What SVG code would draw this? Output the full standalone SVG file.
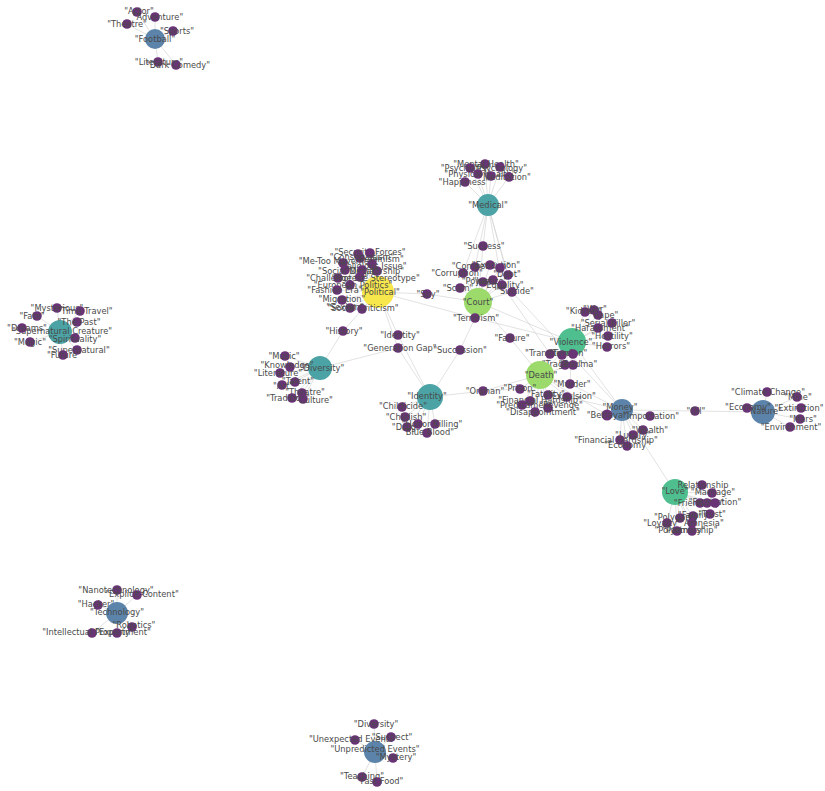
<svg xmlns="http://www.w3.org/2000/svg" width="825" height="791" viewBox="0 0 825 791">
<style>
  .e{stroke:#cfcfcf;stroke-width:0.6;fill:none}
  .leaf{fill:#693476}
  .hub-blue{fill:#5c84aa}
  .hub-teal{fill:#4ca3a5}
  .hub-mint{fill:#4fbf8f}
  .hub-lime{fill:#9bda6b}
  .hub-yellow{fill:#f7e64c}
  text{font-family:"DejaVu Sans","Liberation Sans",sans-serif;font-size:8.3px;fill:#4a4a4a;text-anchor:middle}
</style>
<rect width="825" height="791" fill="#ffffff"/>

<!-- edges -->
<g id="connectors">
  <!-- Football -->
  <path class="e" d="M155 39L137 12M155 39L155 17M155 39L127 24M155 39L173 31M155 39L158 62M155 39L176 65"/>
  <!-- Medical -->
  <path class="e" d="M488 205L485 164M488 205L500 167M488 205L470 168M488 205L478 174M488 205L491 176M488 205L509 177M488 205L465 182"/>
  <path class="e" d="M488 205L483 246M488 205L463 273M488 205L512 292M488 205L502 285M488 205L475 267M488 205L508 275"/>
  <!-- Political -->
  <path class="e" d="M378 292L358 254M378 292L370 253M378 292L360 258M378 292L343 263M378 292L372 264M378 292L345 270M378 292L362 270M378 292L377 271M378 292L338 278M378 292L360 277M378 292L350 285M378 292L337 290M378 292L342 300M378 292L350 308M378 292L362 309"/>
  <path class="e" d="M378 292L427 294L478 302M378 292L475 318M378 292L343 331L320 368M378 292L398 335L430 397M378 292L398 348M320 368L398 348L430 397"/>
  <!-- Court -->
  <path class="e" d="M478 302L483 246M478 302L463 273M478 302L475 267M478 302L490 265M478 302L500 268M478 302L508 275M478 302L483 282M478 302L493 280M478 302L460 288M478 302L502 285M478 302L512 292M478 302L475 318"/>
  <path class="e" d="M478 302L510 338L540 375M478 302L572 342M475 318L572 342M475 318L460 350L430 397M512 292L622 410M502 285L550 354"/>
  <!-- Supernatural -->
  <path class="e" d="M60 332L57 308M60 332L80 311M60 332L37 316M60 332L77 322M60 332L22 328M60 332L75 338M60 332L30 342M60 332L77 350M60 332L63 355"/>
  <!-- Diversity -->
  <path class="e" d="M320 368L285 356M320 368L290 367M320 368L280 373M320 368L295 382M320 368L282 385M320 368L302 393M320 368L292 398M320 368L303 399"/>
  <!-- Identity -->
  <path class="e" d="M430 397L483 391L540 375M430 397L402 407M430 397L405 417M430 397L407 427M430 397L418 424M430 397L435 424M430 397L427 433"/>
  <!-- Violence -->
  <path class="e" d="M572 342L585 312M572 342L594 310M572 342L598 315M572 342L612 323M572 342L598 328M572 342L608 336M572 342L607 347M572 342L550 354M572 342L562 355M572 342L573 354M572 342L565 365M572 342L573 365M572 342L570 384M572 342L622 410M572 342L540 375"/>
  <!-- Death -->
  <path class="e" d="M540 375L520 389M540 375L570 384M540 375L548 395M540 375L567 397M540 375L530 401M540 375L522 405M540 375L548 408M540 375L535 412M540 375L607 415M540 375L550 354M540 375L573 365M520 389L483 391"/>
  <!-- Money -->
  <path class="e" d="M622 410L607 415M622 410L650 416M622 410L643 430M622 410L633 435M622 410L620 440M622 410L627 446M622 410L695 411L763 412M622 410L675 492M622 410L567 397M622 410L570 384"/>
  <!-- Nature -->
  <path class="e" d="M763 412L767 392M763 412L797 397M763 412L801 408M763 412L747 408M763 412L800 419M763 412L790 427"/>
  <!-- Love -->
  <path class="e" d="M675 492L702 485M675 492L712 493M675 492L700 503M675 492L707 503M675 492L715 503M675 492L693 516M675 492L710 514M675 492L680 518M675 492L667 523M675 492L692 523M675 492L677 531M675 492L692 531"/>
  <!-- Technology -->
  <path class="e" d="M117 613L117 590M117 613L137 595M117 613L98 605M117 613L132 627M117 613L92 633M117 613L117 633"/>
  <!-- Unpredicted Events -->
  <path class="e" d="M375 752L374 724M375 752L355 740M375 752L391 737M375 752L393 758M375 752L362 777M375 752L377 782"/>
</g>

<!-- Football -->
<g id="football"><circle class="hub-blue" cx="155" cy="39" r="10"/><text x="155" y="42">"Football"</text></g>
<g id="actor"><circle class="leaf" cx="137" cy="12" r="4.8"/><text x="139" y="14">"Actor"</text></g>
<g id="adventure"><circle class="leaf" cx="155" cy="17" r="4.8"/><text x="158" y="20">"Adventure"</text></g>
<g id="theatre-a"><circle class="leaf" cx="127" cy="24" r="4.8"/><text x="127" y="27">"Theatre"</text></g>
<g id="sports"><circle class="leaf" cx="173" cy="31" r="4.8"/><text x="177" y="34">"Sports"</text></g>
<g id="literature-a"><circle class="leaf" cx="158" cy="62" r="4.8"/><text x="159" y="65">"Literature"</text></g>
<g id="dark-comedy"><circle class="leaf" cx="176" cy="65" r="4.8"/><text x="178" y="68">"Dark Comedy"</text></g>

<!-- Medical -->
<g id="medical"><circle class="hub-teal" cx="488" cy="205" r="11"/><text x="488" y="208">"Medical"</text></g>
<g id="mental-health"><circle class="leaf" cx="485" cy="164" r="4.8"/><text x="486" y="167">"Mental Health"</text></g>
<g id="psychology"><circle class="leaf" cx="500" cy="167" r="4.8"/><text x="500" y="171">"Psychology"</text></g>
<g id="psychiatry"><circle class="leaf" cx="470" cy="168" r="4.8"/><text x="466" y="171">"Psychiatry"</text></g>
<g id="physical-health"><circle class="leaf" cx="478" cy="174" r="4.8"/><text x="480" y="177">"Physical Health"</text></g>
<g id="sleep"><circle class="leaf" cx="491" cy="176" r="4.8"/></g>
<g id="meditation"><circle class="leaf" cx="509" cy="177" r="4.8"/><text x="505" y="180">"Meditation"</text></g>
<g id="happiness"><circle class="leaf" cx="465" cy="182" r="4.8"/><text x="464" y="185">"Happiness"</text></g>

<!-- Political -->
<g id="political"><circle class="hub-yellow" cx="378" cy="292" r="16"/><text x="380" y="295">"Political"</text></g>
<g id="security-forces"><circle class="leaf" cx="358" cy="254" r="4.8"/><text x="370" y="255">"Security Forces"</text></g>
<g id="communism"><circle class="leaf" cx="370" cy="253" r="4.8"/></g>
<g id="conservatism"><circle class="leaf" cx="360" cy="258" r="4.8"/><text x="362" y="260">"Conservatism"</text></g>
<g id="metoo"><circle class="leaf" cx="343" cy="263" r="4.8"/><text x="340" y="264">"Me-Too Movement"</text></g>
<g id="feminism"><circle class="leaf" cx="372" cy="264" r="4.8"/><text x="380" y="262">"Feminism"</text></g>
<g id="religious-issue"><circle class="leaf" cx="377" cy="271" r="4.8"/><text x="372" y="269">"Religious Issue"</text></g>
<g id="social-media"><circle class="leaf" cx="345" cy="270" r="4.8"/><text x="348" y="274">"Social Media"</text></g>
<g id="dictatorship"><circle class="leaf" cx="362" cy="270" r="4.8"/><text x="375" y="274">"Dictatorship"</text></g>
<g id="challenge"><circle class="leaf" cx="338" cy="278" r="4.8"/><text x="363" y="281">"Challenge the Stereotype"</text></g>
<g id="protest"><circle class="leaf" cx="360" cy="277" r="4.8"/><text x="350" y="281">"Protest"</text></g>
<g id="european-politics"><circle class="leaf" cx="350" cy="285" r="4.8"/><text x="353" y="288">"European Politics"</text></g>
<g id="fashion-era"><circle class="leaf" cx="337" cy="290" r="4.8"/><text x="335" y="293">"Fashion Era"</text></g>
<g id="migration"><circle class="leaf" cx="342" cy="300" r="4.8"/><text x="342" y="302">"Migration"</text></g>
<g id="sexism"><circle class="leaf" cx="350" cy="308" r="4.8"/><text x="345" y="310">"Sexism"</text></g>
<g id="social-criticism"><circle class="leaf" cx="362" cy="309" r="4.8"/><text x="363" y="311">"Social Criticism"</text></g>
<g id="spy"><circle class="leaf" cx="427" cy="294" r="4.8"/><text x="428" y="297">"Spy"</text></g>

<!-- Court -->
<g id="court"><circle class="hub-lime" cx="478" cy="302" r="14"/><text x="478" y="305">"Court"</text></g>
<g id="success"><circle class="leaf" cx="483" cy="246" r="4.8"/><text x="484" y="249">"Success"</text></g>
<g id="corruption"><circle class="leaf" cx="463" cy="273" r="4.8"/><text x="457" y="276">"Corruption"</text></g>
<g id="competition"><circle class="leaf" cx="475" cy="267" r="4.8"/><text x="481" y="269">"Competition"</text></g>
<g id="execution"><circle class="leaf" cx="490" cy="265" r="4.8"/><text x="496" y="268">"Execution"</text></g>
<g id="theft"><circle class="leaf" cx="500" cy="268" r="4.8"/></g>
<g id="debt"><circle class="leaf" cx="508" cy="275" r="4.8"/><text x="507" y="277">"Debt"</text></g>
<g id="power"><circle class="leaf" cx="483" cy="282" r="4.8"/><text x="478" y="284">"Power"</text></g>
<g id="justice"><circle class="leaf" cx="493" cy="280" r="4.8"/><text x="490" y="284">"Justice"</text></g>
<g id="scam"><circle class="leaf" cx="460" cy="288" r="4.8"/><text x="458" y="291">"Scam"</text></g>
<g id="equality"><circle class="leaf" cx="502" cy="285" r="4.8"/><text x="503" y="288">"Equality"</text></g>
<g id="suicide"><circle class="leaf" cx="512" cy="292" r="4.8"/><text x="515" y="294">"Suicide"</text></g>
<g id="terrorism"><circle class="leaf" cx="475" cy="318" r="4.8"/><text x="476" y="321">"Terrorism"</text></g>
<g id="succession"><circle class="leaf" cx="460" cy="350" r="4.8"/><text x="460" y="353">"Succession"</text></g>
<g id="failure"><circle class="leaf" cx="510" cy="338" r="4.8"/><text x="512" y="341">"Failure"</text></g>

<!-- Supernatural Creature -->
<g id="supernatural-creature"><circle class="hub-teal" cx="60" cy="332" r="12"/><text x="62" y="334">"Supernatural Creature"</text></g>
<g id="mysterious"><circle class="leaf" cx="57" cy="308" r="4.8"/><text x="57" y="311">"Mysterious"</text></g>
<g id="time-travel"><circle class="leaf" cx="80" cy="311" r="4.8"/><text x="85" y="314">"Time Travel"</text></g>
<g id="fate"><circle class="leaf" cx="37" cy="316" r="4.8"/><text x="32" y="319">"Fate"</text></g>
<g id="the-past"><circle class="leaf" cx="77" cy="322" r="4.8"/><text x="79" y="325">"The Past"</text></g>
<g id="dreams"><circle class="leaf" cx="22" cy="328" r="4.8"/><text x="27" y="331">"Dreams"</text></g>
<g id="spirituality"><circle class="leaf" cx="75" cy="338" r="4.8"/><text x="75" y="342">"Spirituality"</text></g>
<g id="magic"><circle class="leaf" cx="30" cy="342" r="4.8"/><text x="30" y="345">"Magic"</text></g>
<g id="supernatural"><circle class="leaf" cx="77" cy="350" r="4.8"/><text x="79" y="353">"Supernatural"</text></g>
<g id="future"><circle class="leaf" cx="63" cy="355" r="4.8"/><text x="64" y="358">"Future"</text></g>

<!-- Diversity -->
<g id="diversity"><circle class="hub-teal" cx="320" cy="368" r="12"/><text x="322" y="371">"Diversity"</text></g>
<g id="history"><circle class="leaf" cx="343" cy="331" r="4.8"/><text x="344" y="334">"History"</text></g>
<g id="identity-b"><circle class="leaf" cx="398" cy="335" r="4.8"/><text x="400" y="338">"Identity"</text></g>
<g id="generation-gap"><circle class="leaf" cx="398" cy="348" r="4.8"/><text x="400" y="351">"Generation Gap"</text></g>
<g id="music"><circle class="leaf" cx="285" cy="356" r="4.8"/><text x="284" y="359">"Music"</text></g>
<g id="knowledge"><circle class="leaf" cx="290" cy="367" r="4.8"/><text x="287" y="368">"Knowledge"</text></g>
<g id="literature-b"><circle class="leaf" cx="280" cy="373" r="4.8"/><text x="278" y="376">"Literature"</text></g>
<g id="talent"><circle class="leaf" cx="295" cy="382" r="4.8"/><text x="298" y="384">"Talent"</text></g>
<g id="art"><circle class="leaf" cx="282" cy="385" r="4.8"/><text x="283" y="389">"Art"</text></g>
<g id="theatre-b"><circle class="leaf" cx="302" cy="393" r="4.8"/><text x="305" y="395">"Theatre"</text></g>
<g id="tradition"><circle class="leaf" cx="292" cy="398" r="4.8"/><text x="288" y="401">"Tradition"</text></g>
<g id="culture"><circle class="leaf" cx="303" cy="399" r="4.8"/><text x="314" y="403">"Culture"</text></g>

<!-- Identity -->
<g id="identity"><circle class="hub-teal" cx="430" cy="397" r="13"/><text x="427" y="399">"Identity"</text></g>
<g id="orphan"><circle class="leaf" cx="483" cy="391" r="4.8"/><text x="485" y="394">"Orphan"</text></g>
<g id="childicide"><circle class="leaf" cx="402" cy="407" r="4.8"/><text x="403" y="409">"Childicide"</text></g>
<g id="childish"><circle class="leaf" cx="405" cy="417" r="4.8"/><text x="406" y="420">"Childish"</text></g>
<g id="drugs"><circle class="leaf" cx="407" cy="427" r="4.8"/><text x="408" y="430">"Drugs"</text></g>
<g id="bullying"><circle class="leaf" cx="418" cy="424" r="4.8"/></g>
<g id="honor-killing"><circle class="leaf" cx="435" cy="424" r="4.8"/><text x="432" y="427">"Honor Killing"</text></g>
<g id="blue-blood"><circle class="leaf" cx="427" cy="433" r="4.8"/><text x="428" y="435">"Blue Blood"</text></g>

<!-- Violence -->
<g id="violence"><circle class="hub-mint" cx="572" cy="342" r="14"/><text x="571" y="345">"Violence"</text></g>
<g id="kidnap"><circle class="leaf" cx="585" cy="312" r="4.8"/><text x="584" y="314">"Kidnap"</text></g>
<g id="war"><circle class="leaf" cx="594" cy="310" r="4.8"/><text x="595" y="312">"War"</text></g>
<g id="rape"><circle class="leaf" cx="598" cy="315" r="4.8"/><text x="604" y="318">"Rape"</text></g>
<g id="serial-killer"><circle class="leaf" cx="612" cy="323" r="4.8"/><text x="608" y="326">"Serial Killer"</text></g>
<g id="harassment"><circle class="leaf" cx="598" cy="328" r="4.8"/><text x="600" y="331">"Harassment"</text></g>
<g id="hostility"><circle class="leaf" cx="608" cy="336" r="4.8"/><text x="612" y="339">"Hostility"</text></g>
<g id="horrors"><circle class="leaf" cx="607" cy="347" r="4.8"/><text x="611" y="349">"Horrors"</text></g>
<g id="transition"><circle class="leaf" cx="550" cy="354" r="4.8"/><text x="549" y="356">"Transition"</text></g>
<g id="tension"><circle class="leaf" cx="562" cy="355" r="4.8"/><text x="568" y="356">"Tension"</text></g>
<g id="terror"><circle class="leaf" cx="573" cy="354" r="4.8"/></g>
<g id="tragedy"><circle class="leaf" cx="565" cy="365" r="4.8"/><text x="562" y="367">"Tragedy"</text></g>
<g id="trauma"><circle class="leaf" cx="573" cy="365" r="4.8"/><text x="578" y="367">"Trauma"</text></g>

<!-- Death -->
<g id="death"><circle class="hub-lime" cx="540" cy="375" r="14"/><text x="541" y="378">"Death"</text></g>
<g id="prison"><circle class="leaf" cx="520" cy="389" r="4.8"/><text x="520" y="391">"Prison"</text></g>
<g id="murder"><circle class="leaf" cx="570" cy="384" r="4.8"/><text x="572" y="387">"Murder"</text></g>
<g id="fatality"><circle class="leaf" cx="548" cy="395" r="4.8"/><text x="546" y="397">"Fatality"</text></g>
<g id="expulsion"><circle class="leaf" cx="567" cy="397" r="4.8"/><text x="572" y="399">"Expulsion"</text></g>
<g id="financial-hardship"><circle class="leaf" cx="530" cy="401" r="4.8"/><text x="540" y="403">"Financial Hardship"</text></g>
<g id="predicament"><circle class="leaf" cx="522" cy="405" r="4.8"/><text x="526" y="408">"Predicament"</text></g>
<g id="revenge"><circle class="leaf" cx="548" cy="408" r="4.8"/><text x="561" y="408">"Revenge"</text></g>
<g id="disappointment"><circle class="leaf" cx="535" cy="412" r="4.8"/><text x="543" y="415">"Disappointment"</text></g>

<!-- Money -->
<g id="money"><circle class="hub-blue" cx="622" cy="410" r="11"/><text x="620" y="410">"Money"</text></g>
<g id="betrayal"><circle class="leaf" cx="607" cy="415" r="5.5"/><text x="608" y="418">"Betrayal"</text></g>
<g id="importation"><circle class="leaf" cx="650" cy="416" r="4.8"/><text x="651" y="419">"Importation"</text></g>
<g id="wealth"><circle class="leaf" cx="643" cy="430" r="4.8"/><text x="650" y="433">"Wealth"</text></g>
<g id="luxury"><circle class="leaf" cx="633" cy="435" r="4.8"/><text x="633" y="438">"Luxury"</text></g>
<g id="financial-leadership"><circle class="leaf" cx="620" cy="440" r="4.8"/><text x="616" y="443">"Financial Hardship"</text></g>
<g id="economy-a"><circle class="leaf" cx="627" cy="446" r="4.8"/><text x="627" y="448">"Economy"</text></g>
<g id="oil"><circle class="leaf" cx="695" cy="411" r="4.8"/><text x="696" y="414">"Oil"</text></g>

<!-- Nature -->
<g id="nature"><circle class="hub-blue" cx="763" cy="412" r="12"/><text x="764" y="414">"Nature"</text></g>
<g id="climate-change"><circle class="leaf" cx="767" cy="392" r="4.8"/><text x="768" y="395">"Climate Change"</text></g>
<g id="mine"><circle class="leaf" cx="797" cy="397" r="4.8"/><text x="798" y="400">"Mine"</text></g>
<g id="extinction"><circle class="leaf" cx="801" cy="408" r="4.8"/><text x="799" y="411">"Extinction"</text></g>
<g id="economy-b"><circle class="leaf" cx="747" cy="408" r="4.8"/><text x="748" y="410">"Economy"</text></g>
<g id="mars"><circle class="leaf" cx="800" cy="419" r="4.8"/><text x="803" y="422">"Mars"</text></g>
<g id="environment"><circle class="leaf" cx="790" cy="427" r="4.8"/><text x="791" y="430">"Environment"</text></g>

<!-- Love -->
<g id="love"><circle class="hub-mint" cx="675" cy="492" r="13"/><text x="675" y="494">"Love"</text></g>
<g id="relationship"><circle class="leaf" cx="702" cy="485" r="4.8"/><text x="703" y="488">Relationship</text></g>
<g id="marriage"><circle class="leaf" cx="712" cy="493" r="4.8"/><text x="713" y="495">"Marriage"</text></g>
<g id="friendship"><circle class="leaf" cx="700" cy="503" r="4.8"/><text x="699" y="506">"Friendship"</text></g>
<g id="frustration"><circle class="leaf" cx="707" cy="503" r="4.8"/><text x="715" y="505">"Frustration"</text></g>
<g id="commitment"><circle class="leaf" cx="715" cy="503" r="4.8"/></g>
<g id="family"><circle class="leaf" cx="693" cy="516" r="4.8"/><text x="695" y="518">"Family"</text></g>
<g id="trust"><circle class="leaf" cx="710" cy="514" r="4.8"/><text x="712" y="517">"Trust"</text></g>
<g id="polygamy"><circle class="leaf" cx="680" cy="518" r="4.8"/><text x="678" y="520">"Polygamy"</text></g>
<g id="loyalty"><circle class="leaf" cx="667" cy="523" r="4.8"/><text x="662" y="526">"Loyalty"</text></g>
<g id="amnesia"><circle class="leaf" cx="692" cy="523" r="4.8"/><text x="702" y="526">"Amnesia"</text></g>
<g id="polyamory"><circle class="leaf" cx="677" cy="531" r="4.8"/><text x="680" y="533">"Polyamory"</text></g>
<g id="partnership"><circle class="leaf" cx="692" cy="531" r="4.8"/><text x="690" y="533">"Partnership"</text></g>

<!-- Technology -->
<g id="technology"><circle class="hub-blue" cx="117" cy="613" r="11"/><text x="117" y="615">"Technology"</text></g>
<g id="nanotechnology"><circle class="leaf" cx="117" cy="590" r="4.8"/><text x="116" y="593">"Nanotechnology"</text></g>
<g id="explicit-content"><circle class="leaf" cx="137" cy="595" r="4.8"/><text x="142" y="597">"Explicit Content"</text></g>
<g id="hacker"><circle class="leaf" cx="98" cy="605" r="4.8"/><text x="96" y="607">"Hacker"</text></g>
<g id="robotics"><circle class="leaf" cx="132" cy="627" r="4.8"/><text x="134" y="628">"Robotics"</text></g>
<g id="intellectual-property"><circle class="leaf" cx="92" cy="633" r="4.8"/><text x="88" y="635">"Intellectual Property"</text></g>
<g id="experiment"><circle class="leaf" cx="117" cy="633" r="4.8"/><text x="123" y="635">"Experiment"</text></g>

<!-- Unpredicted Events -->
<g id="unpredicted-events"><circle class="hub-blue" cx="375" cy="752" r="11"/><text x="375" y="752">"Unpredicted Events"</text></g>
<g id="diversity-b"><circle class="leaf" cx="374" cy="724" r="4.8"/><text x="376" y="727">"Diversity"</text></g>
<g id="unexpected-events"><circle class="leaf" cx="355" cy="740" r="4.8"/><text x="353" y="742">"Unexpected Events"</text></g>
<g id="suspect"><circle class="leaf" cx="391" cy="737" r="4.8"/><text x="392" y="740">"Suspect"</text></g>
<g id="mystery"><circle class="leaf" cx="393" cy="758" r="4.8"/><text x="396" y="760">"Mystery"</text></g>
<g id="teaching"><circle class="leaf" cx="362" cy="777" r="4.8"/><text x="362" y="779">"Teaching"</text></g>
<g id="fast-food"><circle class="leaf" cx="377" cy="782" r="4.8"/><text x="380" y="784">"Fast Food"</text></g>
</svg>
